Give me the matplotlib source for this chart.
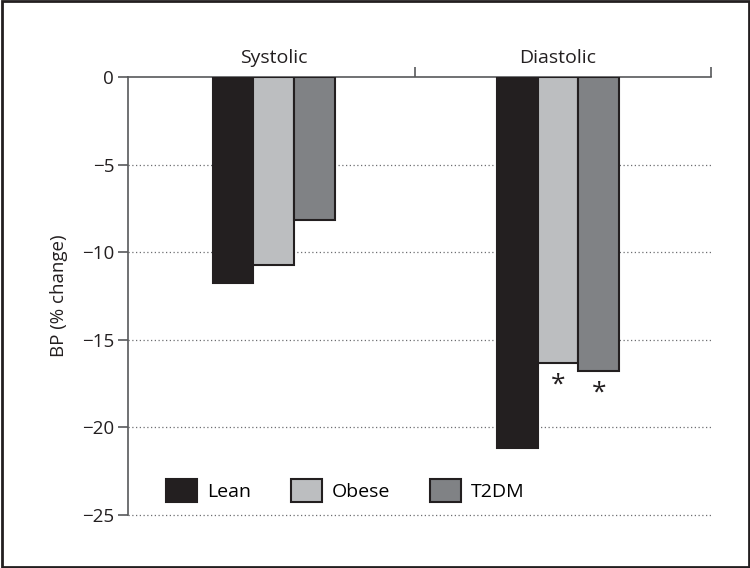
import matplotlib
matplotlib.use('Agg')
import matplotlib.pyplot as plt
import numpy as np

plt.rcParams['font.family'] = ['Open Sans', 'DejaVu Sans']

categories = ["Systolic", "Diastolic"]
groups = ["Lean", "Obese", "T2DM"]
lean = [-11.75, -21.15]
obese = [-10.75, -16.3]
t2dm = [-8.15, -16.8]
# significance marks under (category index, group index)
stars = [(1, 1), (1, 2)]

colors = ["#231f20", "#bcbec0", "#808285"]
edge = "#231f20"
axis_col = "#58595b"


def main():
    fig = plt.figure(figsize=(7.5, 5.68), dpi=100)
    ax = fig.add_axes([0.1707, 0.0933, 0.7773, 0.7711])

    centers = np.array([0.5, 1.475])
    width = 0.14
    series = [lean, obese, t2dm]
    for i, (vals, name) in enumerate(zip(series, groups)):
        xs = centers + (i - 1) * width
        ax.bar(xs, vals, width=width, color=colors[i], edgecolor=edge,
               linewidth=1.5, label=name, zorder=3)

    for ci, gi in stars:
        x = centers[ci] + (gi - 1) * width
        y = series[gi][ci]
        ax.text(x, y - 0.55, "*", ha="center", va="top", fontsize=19,
                color=edge, zorder=4)

    ax.set_xlim(0, 2)
    ax.set_ylim(-25, 0)
    ax.set_yticks([0, -5, -10, -15, -20, -25])
    for y in [-5, -10, -15, -20, -25]:
        ax.axhline(y, color="#6d6e71", linestyle=(0, (1, 2)), linewidth=0.9,
                   zorder=1, clip_on=False)

    # top axis with category labels
    ax.xaxis.tick_top()
    ax.set_xticks([0.985, 2.0])
    ax.set_xticklabels([])
    ax.tick_params(axis="x", direction="out", length=7, width=1.2,
                   color=axis_col)
    ax.tick_params(axis="y", direction="out", length=7, width=1.2,
                   color=axis_col, labelsize=13.5, labelcolor="#231f20", pad=3)
    for ci, name in enumerate(categories):
        ax.text(centers[ci], 1.022, name, transform=ax.get_xaxis_transform(),
                ha="center", va="bottom", fontsize=14, color="#231f20")

    for side in ["bottom", "right"]:
        ax.spines[side].set_visible(False)
    for side in ["top", "left"]:
        ax.spines[side].set_color(axis_col)
        ax.spines[side].set_linewidth(1.2)

    ax.set_ylabel("BP (% change)", fontsize=13.5, color="#231f20", labelpad=10)

    ax.legend(loc="lower left", bbox_to_anchor=(0.035, -0.01), ncol=3,
              frameon=False, fontsize=14, handlelength=1.6, handleheight=1.45,
              columnspacing=2.05, handletextpad=0.5)

    # figure border
    fig.patches.append(plt.Rectangle((0.002, 0.002), 0.996, 0.996,
                                     transform=fig.transFigure, fill=False,
                                     edgecolor="#231f20", linewidth=2))

    plt.savefig("out.png", dpi=100)


if __name__ == "__main__":
    main()
